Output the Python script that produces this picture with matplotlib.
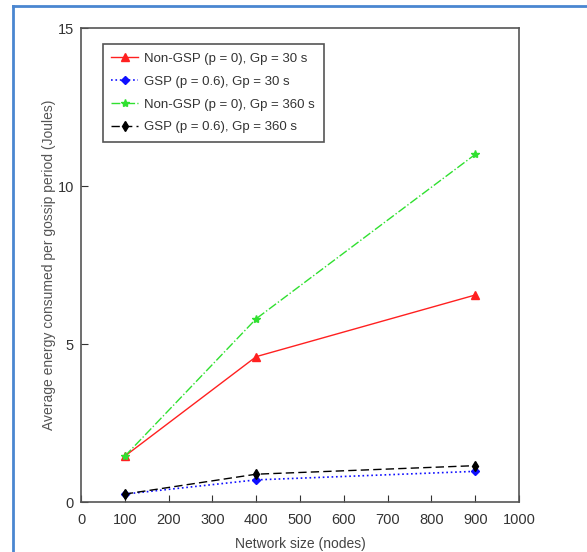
import numpy as np
import matplotlib
matplotlib.use("Agg")
import matplotlib.pyplot as plt
from matplotlib.lines import Line2D

# data
network_size = [100, 400, 900]
nongsp_30 = [1.45, 4.6, 6.55]
gsp_30 = [0.25, 0.70, 0.97]
nongsp_360 = [1.45, 5.8, 11.0]
gsp_360 = [0.25, 0.88, 1.15]

labels = ["Non-GSP (p = 0), Gp = 30 s",
          "GSP (p = 0.6), Gp = 30 s",
          "Non-GSP (p = 0), Gp = 360 s",
          "GSP (p = 0.6), Gp = 360 s"]

x_ticks = [0, 100, 200, 300, 400, 500, 600, 700, 800, 900, 1000]
y_ticks = [0, 5, 10, 15]

plt.rcParams['font.family'] = ['Liberation Sans Narrow', 'Liberation Sans', 'DejaVu Sans']
plt.rcParams['font.size'] = 10

fig = plt.figure(figsize=(5.87, 5.52), dpi=100)
ax = fig.add_axes([81 / 587, 1 - 502 / 552, 438 / 587, 474 / 552])

ax.plot(network_size, nongsp_30, '-', color='#ff2020', marker='^', markersize=5.5, lw=1, label=labels[0])
ax.plot(network_size, gsp_30, ':', color='#1010ff', marker='D', markersize=4.5, lw=1.2, label=labels[1])
ax.plot(network_size, nongsp_360, '-.', color='#30e030', marker='*', markersize=6, lw=1, label=labels[2])
ax.plot(network_size, gsp_360, '--', color='black', marker='d', markersize=5.5, lw=1, dashes=(6, 3), label=labels[3])

ax.set_xlim(0, 1000)
ax.set_ylim(0, 15)
ax.set_xticks(x_ticks)
ax.set_yticks(y_ticks)
ax.tick_params(direction='in', length=5, labelsize=10.5, colors='#333333')
ax.tick_params(axis='x', pad=8)
ax.tick_params(axis='y', pad=5)
for sp in ax.spines.values():
    sp.set_color('#555555')
    sp.set_linewidth(1.2)

ax.set_xlabel("Network size (nodes)", fontsize=10, color='#444444', labelpad=7)
ax.set_ylabel("Average energy consumed per gossip period (Joules)", fontsize=10, color='#555555', labelpad=1)

leg = ax.legend(loc='upper left', bbox_to_anchor=(0.05, 0.966), borderaxespad=0, fancybox=False,
                framealpha=1, edgecolor='#555555', fontsize=9.5, handlelength=2.0, borderpad=0.65,
                labelspacing=0.8, handletextpad=0.5)
leg.get_frame().set_linewidth(1.2)
for t in leg.get_texts():
    t.set_color('#333333')

# blue frame around the figure (top and left edges)
fig.add_artist(Line2D([13 / 587, 1], [1 - 6 / 552, 1 - 6 / 552], color='#4a86d0', lw=2, transform=fig.transFigure))
fig.add_artist(Line2D([13 / 587, 13 / 587], [0, 1 - 6 / 552], color='#4a86d0', lw=2, transform=fig.transFigure))

fig.savefig("out.png", dpi=100)
